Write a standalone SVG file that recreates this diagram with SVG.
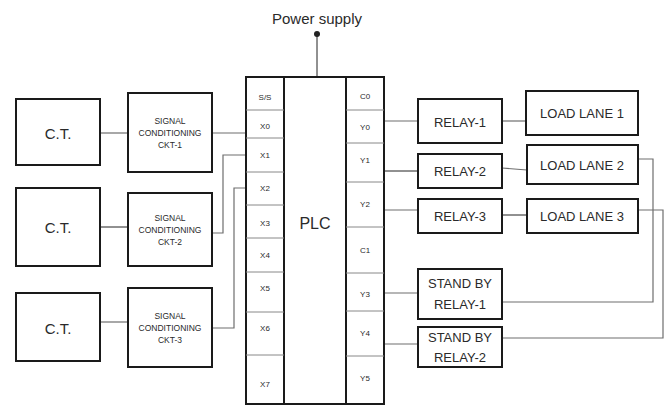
<svg xmlns="http://www.w3.org/2000/svg" width="668" height="405" viewBox="0 0 668 405">
<style>
.box{fill:#fff;stroke:#1a1a1a;stroke-width:2}
.cell{fill:none;stroke:#1a1a1a;stroke-width:2}
.div{stroke:#888;stroke-width:1}
.w{fill:none;stroke:#6e6e6e;stroke-width:1.2}
.wd{fill:none;stroke:#222;stroke-width:1}
text{font-family:"Liberation Sans",Arial,sans-serif;fill:#2a2a2a;text-anchor:middle;dominant-baseline:central}
.big{font-size:15px}
.mid{font-size:13px}
.sm{font-size:8.5px}
.tiny{font-size:8px}
</style>
<rect width="668" height="405" fill="#fff"/>
<g id="connectors">
<line class="w" x1="100" y1="133" x2="128" y2="133"/>
<line class="wd" x1="100" y1="227" x2="128" y2="227"/>
<line class="w" x1="100" y1="322" x2="128" y2="322"/>
<line class="w" x1="212" y1="133" x2="246" y2="133"/>
<polyline class="w" points="212,233 223,233 223,155 246,155"/>
<polyline class="w" points="212,328 234,328 234,188 246,188"/>
<line class="wd" x1="317" y1="34" x2="317" y2="77"/>
<line class="w" x1="384" y1="121" x2="418" y2="121"/>
<line class="w" x1="502" y1="121" x2="526" y2="121"/>
<line class="wd" x1="384" y1="171" x2="418" y2="171"/>
<line class="w" x1="502" y1="168" x2="527" y2="170"/>
<line class="w" x1="384" y1="210" x2="418" y2="210"/>
<line class="wd" x1="502" y1="215" x2="527" y2="215"/>
<polyline class="w" points="638,159 653,159 653,302 502,302"/>
<polyline class="w" points="638,210 663,210 663,338 502,338"/>
<line class="w" x1="384" y1="293" x2="418" y2="293"/>
<line class="w" x1="384" y1="344" x2="418" y2="344"/>
</g>
<g id="power">
<text class="big" x="317" y="18">Power supply</text>
<circle cx="317" cy="34" r="3" fill="#222"/>
</g>
<g id="ct1"><rect class="box" x="16" y="99" width="84" height="66"/><text class="big" x="58" y="133">C.T.</text></g>
<g id="ct2"><rect class="box" x="16" y="188" width="84" height="78"/><text class="big" x="58" y="227">C.T.</text></g>
<g id="ct3"><rect class="box" x="16" y="293" width="84" height="68"/><text class="big" x="58" y="328">C.T.</text></g>
<g id="sc1"><rect class="box" x="128" y="93" width="84" height="79"/><text class="sm" x="170" y="121">SIGNAL</text><text class="sm" x="170" y="133">CONDITIONING</text><text class="sm" x="170" y="145">CKT-1</text></g>
<g id="sc2"><rect class="box" x="128" y="193" width="84" height="73"/><text class="sm" x="170" y="218">SIGNAL</text><text class="sm" x="170" y="230">CONDITIONING</text><text class="sm" x="170" y="242">CKT-2</text></g>
<g id="sc3"><rect class="box" x="128" y="288" width="84" height="79"/><text class="sm" x="170" y="316">SIGNAL</text><text class="sm" x="170" y="328">CONDITIONING</text><text class="sm" x="170" y="340">CKT-3</text></g>
<g id="plc">
<rect class="cell" x="246" y="77" width="38" height="327"/>
<rect class="cell" x="284" y="77" width="62" height="327"/>
<rect class="cell" x="346" y="77" width="38" height="327"/>
<g class="div">
<line x1="246" y1="110" x2="284" y2="110"/><line x1="246" y1="138" x2="284" y2="138"/><line x1="246" y1="172" x2="284" y2="172"/><line x1="246" y1="205" x2="284" y2="205"/><line x1="246" y1="238" x2="284" y2="238"/><line x1="246" y1="272" x2="284" y2="272"/><line x1="246" y1="312" x2="284" y2="312"/><line x1="246" y1="355" x2="284" y2="355"/>
<line x1="346" y1="110" x2="384" y2="110"/><line x1="346" y1="143" x2="384" y2="143"/><line x1="346" y1="182" x2="384" y2="182"/><line x1="346" y1="227" x2="384" y2="227"/><line x1="346" y1="273" x2="384" y2="273"/><line x1="346" y1="311" x2="384" y2="311"/><line x1="346" y1="356" x2="384" y2="356"/>
</g>
<text class="tiny" x="265" y="97">S/S</text><text class="tiny" x="265" y="126">X0</text><text class="tiny" x="265" y="155">X1</text><text class="tiny" x="265" y="188">X2</text><text class="tiny" x="265" y="223">X3</text><text class="tiny" x="265" y="255">X4</text><text class="tiny" x="265" y="288">X5</text><text class="tiny" x="265" y="328">X6</text><text class="tiny" x="265" y="384">X7</text>
<text class="tiny" x="365" y="96">C0</text><text class="tiny" x="365" y="127">Y0</text><text class="tiny" x="365" y="160">Y1</text><text class="tiny" x="365" y="204">Y2</text><text class="tiny" x="365" y="250">C1</text><text class="tiny" x="365" y="294">Y3</text><text class="tiny" x="365" y="333">Y4</text><text class="tiny" x="365" y="378">Y5</text>
<text x="315" y="223" font-size="16">PLC</text>
</g>
<g id="relay1"><rect class="box" x="418" y="99" width="84" height="44"/><text class="mid" x="460" y="122">RELAY-1</text></g>
<g id="relay2"><rect class="box" x="418" y="154" width="84" height="34"/><text class="mid" x="460" y="171">RELAY-2</text></g>
<g id="relay3"><rect class="box" x="418" y="199" width="84" height="34"/><text class="mid" x="460" y="216">RELAY-3</text></g>
<g id="load1"><rect class="box" x="526" y="91" width="112" height="44"/><text class="mid" x="582" y="113">LOAD LANE 1</text></g>
<g id="load2"><rect class="box" x="527" y="145" width="111" height="39"/><text class="mid" x="582" y="165">LOAD LANE 2</text></g>
<g id="load3"><rect class="box" x="527" y="199" width="111" height="34"/><text class="mid" x="582" y="216">LOAD LANE 3</text></g>
<g id="sbrelay1"><rect class="box" x="418" y="269" width="84" height="50"/><text class="mid" x="460" y="283">STAND BY</text><text class="mid" x="460" y="304">RELAY-1</text></g>
<g id="sbrelay2"><rect class="box" x="418" y="327" width="84" height="40"/><text class="mid" x="460" y="337">STAND BY</text><text class="mid" x="460" y="357">RELAY-2</text></g>
</svg>
